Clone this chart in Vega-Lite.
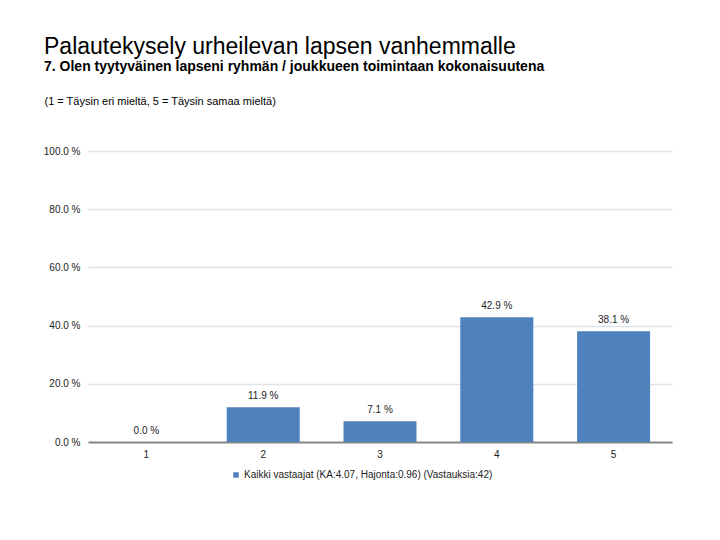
{
  "$schema": "https://vega.github.io/schema/vega-lite/v6.json",
  "autosize": "none",
  "padding": {"left": 88, "top": 151, "right": 48, "bottom": 98},
  "width": 584,
  "height": 291,
  "background": "white",
  "config": {
    "font": "Liberation Sans",
    "view": {"stroke": null}
  },
  "title": {
    "text": "Palautekysely urheilevan lapsen vanhemmalle",
    "subtitle": "7. Olen tyytyväinen lapseni ryhmän / joukkueen toimintaan kokonaisuutena",
    "anchor": "start",
    "frame": "group",
    "dx": -44,
    "fontSize": 23,
    "fontWeight": "normal",
    "color": "#000000",
    "subtitleFontSize": 14,
    "subtitleFontWeight": "bold",
    "subtitleColor": "#000000",
    "subtitlePadding": 1,
    "offset": 21
  },
  "data": {
    "values": [
      {"option": "1", "pct": 0.0, "label": "0.0 %", "series": "Kaikki vastaajat (KA:4.07, Hajonta:0.96) (Vastauksia:42)"},
      {"option": "2", "pct": 11.9, "label": "11.9 %", "series": "Kaikki vastaajat (KA:4.07, Hajonta:0.96) (Vastauksia:42)"},
      {"option": "3", "pct": 7.1, "label": "7.1 %", "series": "Kaikki vastaajat (KA:4.07, Hajonta:0.96) (Vastauksia:42)"},
      {"option": "4", "pct": 42.9, "label": "42.9 %", "series": "Kaikki vastaajat (KA:4.07, Hajonta:0.96) (Vastauksia:42)"},
      {"option": "5", "pct": 38.1, "label": "38.1 %", "series": "Kaikki vastaajat (KA:4.07, Hajonta:0.96) (Vastauksia:42)"}
    ]
  },
  "encoding": {
    "x": {
      "field": "option",
      "type": "nominal",
      "sort": null,
      "scale": {"paddingInner": 0.375, "paddingOuter": 0.1875},
      "axis": {
        "title": null,
        "labelAngle": 0,
        "labelFontSize": 10,
        "labelColor": "#222222",
        "labelPadding": 7,
        "ticks": false,
        "domainColor": "#888888",
        "domainWidth": 2,
        "grid": false
      }
    },
    "y": {
      "field": "pct",
      "type": "quantitative",
      "scale": {"domain": [0, 100]},
      "axis": {
        "title": "(1 = Täysin eri mieltä, 5 = Täysin samaa mieltä)",
        "titleAngle": 0,
        "titleAlign": "left",
        "titleBaseline": "middle",
        "titleX": -44,
        "titleY": -50,
        "titleFontSize": 11,
        "titleFontWeight": "normal",
        "titleColor": "#000000",
        "values": [0, 20, 40, 60, 80, 100],
        "labelExpr": "format(datum.value, '.1f') + ' %'",
        "labelFontSize": 10,
        "labelColor": "#222222",
        "labelPadding": 8,
        "ticks": false,
        "domain": false,
        "gridColor": "#dce3eb",
        "gridWidth": 1.5
      }
    }
  },
  "layer": [
    {
      "mark": {"type": "bar"},
      "encoding": {
        "color": {
          "field": "series",
          "type": "nominal",
          "scale": {"range": ["#4f81bd"]},
          "legend": {
            "title": null,
            "orient": "none",
            "legendX": 143,
            "legendY": 319,
            "symbolType": "square",
            "symbolSize": 30,
            "labelFontSize": 10,
            "labelLimit": 0,
            "labelColor": "#222222",
            "labelOffset": 3
          }
        }
      }
    },
    {
      "mark": {"type": "text", "baseline": "bottom", "dy": -6, "fontSize": 10, "color": "#222222"},
      "encoding": {
        "text": {"field": "label", "type": "nominal"}
      }
    }
  ]
}
